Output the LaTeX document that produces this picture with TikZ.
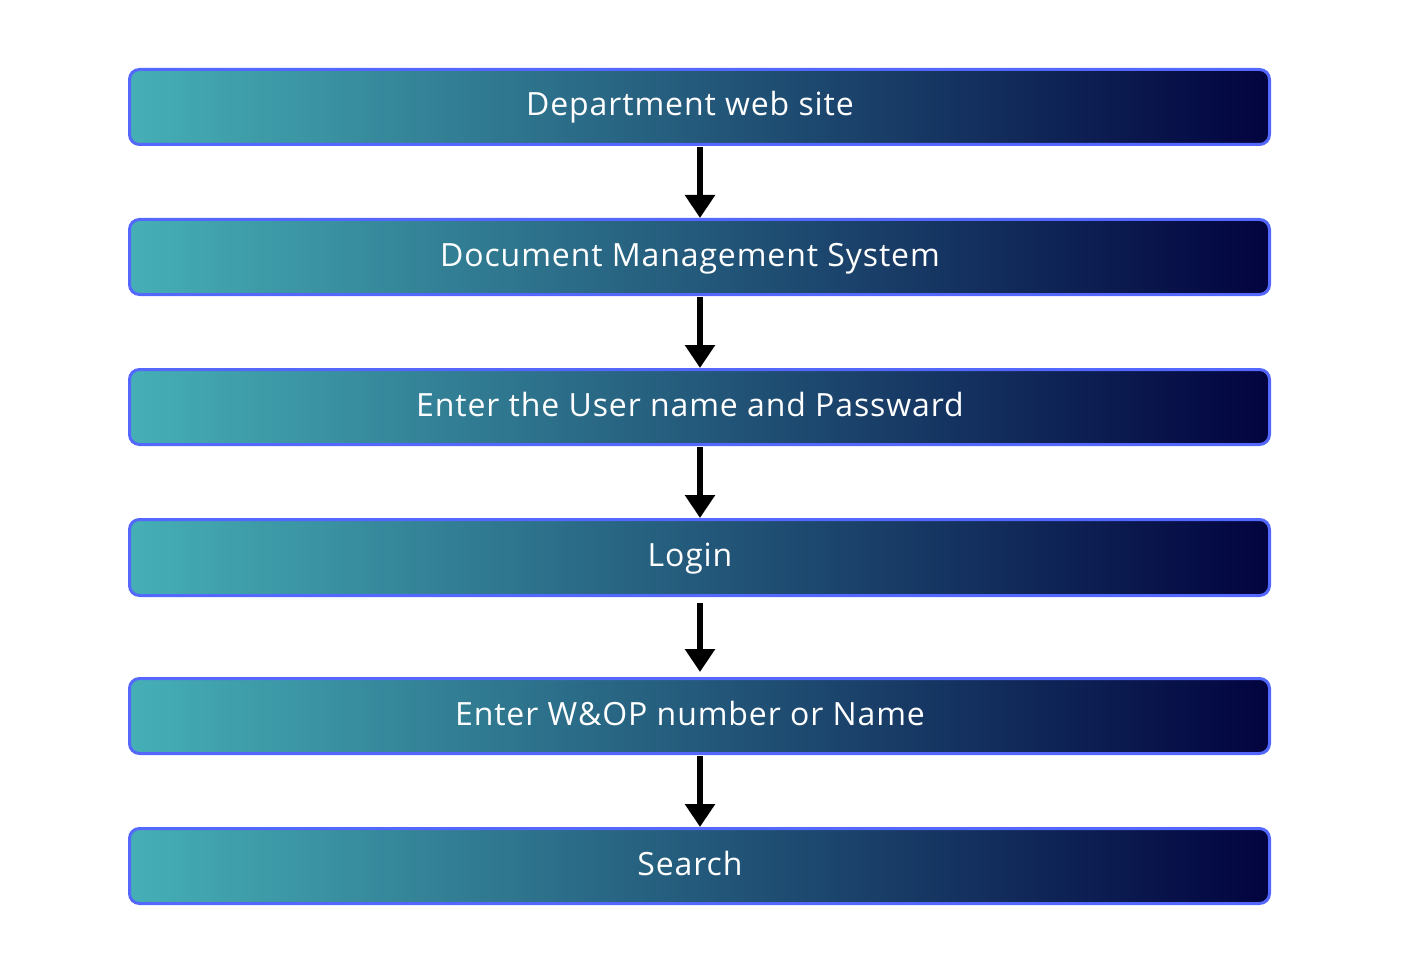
\documentclass[tikz,border=0pt]{standalone}
\usepackage{fontspec}
\setmainfont{Open Sans}[LetterSpace=2.8]
\usetikzlibrary{arrows.meta}
\definecolor{bordercol}{HTML}{5468FF}
\definecolor{tealL}{HTML}{45AFB6}
\definecolor{navyR}{HTML}{02033F}
\tikzset{
  stepbox/.style={rectangle, rounded corners=10pt, draw=bordercol, line width=3pt,
    left color=tealL, right color=navyR, minimum width=1140pt, minimum height=75pt, inner sep=0pt},
  steptext/.style={anchor=base, text=white, font=\fontsize{32pt}{36pt}\selectfont, inner sep=0pt},
  flowarrow/.style={line width=6pt, -{Triangle[width=29pt,length=23pt]}}
}
\begin{document}
\begin{tikzpicture}[x=1pt,y=-1pt]
\useasboundingbox (0,0) rectangle (1414,960);
\node[stepbox] (b1) at (699.5,107) {};
\node[stepbox] (b2) at (699.5,257) {};
\node[stepbox] (b3) at (699.5,407) {};
\node[stepbox, minimum height=76pt] (b4) at (699.5,557.5) {};
\node[stepbox] (b5) at (699.5,716) {};
\node[stepbox] (b6) at (699.5,866) {};
\node[steptext] (t1) at (690,116) {Department web site};
\node[steptext] (t2) at (690,266) {Document Management System};
\node[steptext] (t3) at (690,416) {Enter the User name and Passward};
\node[steptext] (t4) at (690,566.5) {Login};
\node[steptext] (t5) at (690,725) {Enter W\&OP number or Name};
\node[steptext] (t6) at (690,875) {Search};
\coordinate (a1s) at (700,147); \coordinate (a1e) at (700,218);
\coordinate (a2s) at (700,297); \coordinate (a2e) at (700,368);
\coordinate (a3s) at (700,447); \coordinate (a3e) at (700,518);
\coordinate (a4s) at (700,603); \coordinate (a4e) at (700,672);
\coordinate (a5s) at (700,756); \coordinate (a5e) at (700,827);
\draw[flowarrow] (a1s) -- (a1e);
\draw[flowarrow] (a2s) -- (a2e);
\draw[flowarrow] (a3s) -- (a3e);
\draw[flowarrow] (a4s) -- (a4e);
\draw[flowarrow] (a5s) -- (a5e);
\end{tikzpicture}
\end{document}
